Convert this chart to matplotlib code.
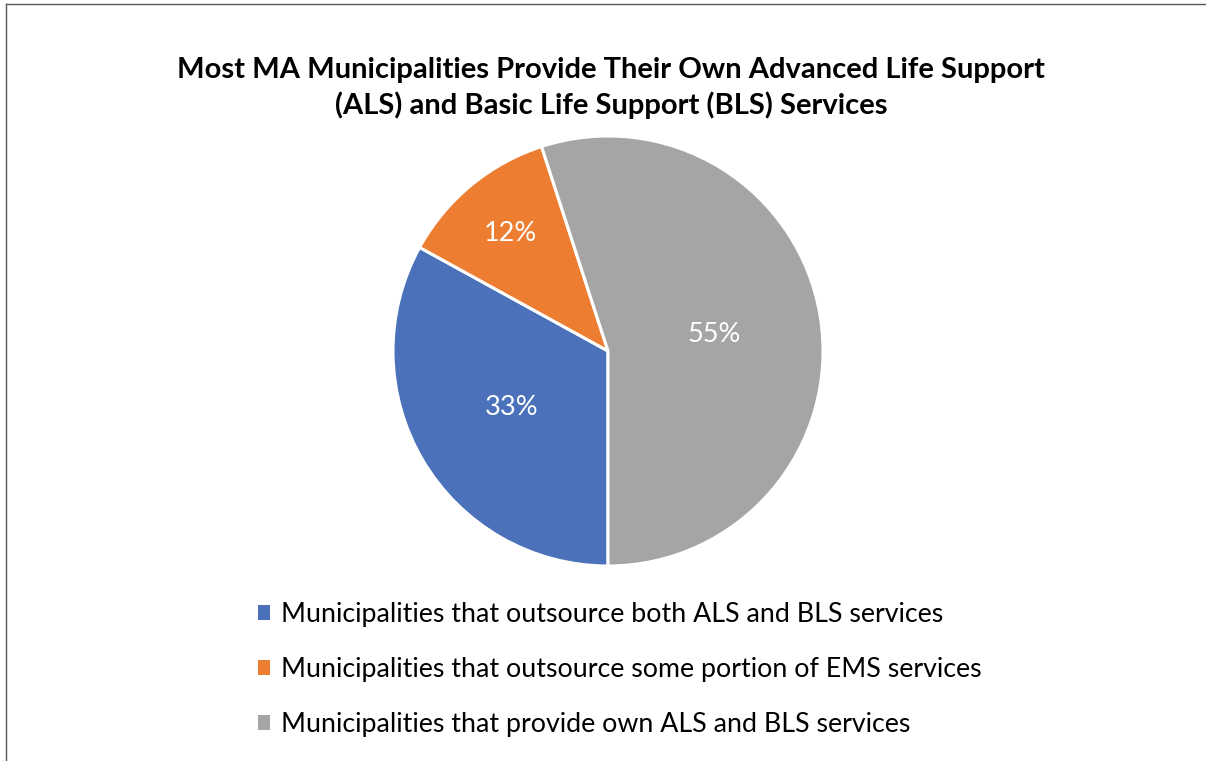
import numpy as np
import matplotlib.pyplot as plt
from matplotlib.patches import Patch
from matplotlib.lines import Line2D

plt.rcParams['font.family'] = ['Lato', 'DejaVu Sans']

# EMS provision shares (percent)
categories = ['Municipalities that outsource both ALS and BLS services',
              'Municipalities that outsource some portion of EMS services',
              'Municipalities that provide own ALS and BLS services']
shares = [33, 12, 55]
colors = ['#4A71B9', '#ED7D31', '#A5A5A5']
label_dist = [0.52, 0.71, 0.50]

W, H = 1206, 761
fig = plt.figure(figsize=(W / 100, H / 100), dpi=100)

# pie axes placed in pixel terms: centre (608, 351), radius 215
cx, cy, r = 608, 351, 215
ax = fig.add_axes([(cx - r) / W, (H - cy - r) / H, 2 * r / W, 2 * r / H])
wedges, texts, autotexts = ax.pie(shares, colors=colors, startangle=-90, counterclock=False,
                                  autopct='%d%%', pctdistance=0.6,
                                  wedgeprops=dict(edgecolor='white', linewidth=2.2),
                                  textprops=dict(color='white', fontsize=19.5))
for t, d in zip(autotexts, label_dist):
    x, y = t.get_position()
    t.set_position((x * d / 0.6, y * d / 0.6))
ax.set_xlim(-1, 1)
ax.set_ylim(-1, 1)
ax.set_aspect('equal')

fig.text(611 / W, 1 - 88 / H,
         'Most MA Municipalities Provide Their Own Advanced Life Support\n(ALS) and Basic Life Support (BLS) Services',
         ha='center', va='center', fontsize=21, fontweight='bold', linespacing=1.35)

handles = [Patch(facecolor=c, edgecolor='none') for c in colors]
leg = fig.legend(handles, categories, loc='upper left', bbox_to_anchor=(258 / W, 1 - 602 / H),
                 frameon=False, fontsize=19.3, handlelength=0.45, handleheight=0.45,
                 handletextpad=0.41, labelspacing=1.12, borderpad=0, borderaxespad=0)

# chart area border along the top and left edges
fig.add_artist(Line2D([6 / W, 1], [1 - 4 / H, 1 - 4 / H], color='#555555', lw=1))
fig.add_artist(Line2D([6 / W, 6 / W], [0, 1 - 4 / H], color='#555555', lw=1))

fig.savefig('out.png', dpi=100)
